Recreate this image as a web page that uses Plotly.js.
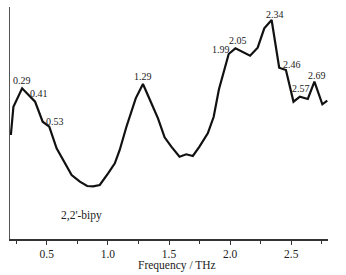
<!DOCTYPE html>
<html>
<head>
<meta charset="utf-8">
<script src="https://cdn.plot.ly/plotly-3.0.1.min.js"></script>
<style>
html,body{margin:0;padding:0;background:#fff;}
#chart{width:346px;height:275px;}
</style>
</head>
<body>
<div id="chart"></div>
<script>
// Frequency (THz) and absorbance (arbitrary units)
const freq = [0.207,0.228,0.299,0.405,0.467,0.521,0.581,0.635,0.704,0.771,0.831,0.880,0.934,1.002,1.057,1.097,1.152,1.228,1.287,1.356,1.410,1.464,1.519,1.586,1.641,1.695,1.749,1.817,1.865,1.908,1.988,2.043,2.102,2.163,2.225,2.279,2.339,2.401,2.456,2.518,2.570,2.635,2.689,2.754,2.794];
const absorb = [104,132.3,150.7,137.3,117.3,112.3,90.7,79,64,57.3,53,52.7,54,65.7,75.7,89,112.3,140.7,155,135.7,120.7,101.7,92.3,82.3,84.7,83,92.3,105.7,122,149.5,185,190.7,187.3,183.3,191.3,210.7,219,171.3,169,137.3,142.3,140,157.3,134.7,138.3];

// Peak labels
const peakLabels = ["0.29","0.41","0.53","1.29","1.99","2.05","2.34","2.46","2.57","2.69"];
const peakLabelX = [0.295,0.44,0.565,1.288,1.925,2.061,2.369,2.505,2.581,2.714];
const peakLabelY = [158.3,145.7,118,163,189.7,198.3,225,174.7,150.7,164];

const xTickVals = [0.5,1.0,1.5,2.0,2.5];
const sampleName = "2,2'-bipy";
const xTitle = "Frequency / THz";

const serif = "Liberation Serif";

const annotations = peakLabels.map((t,i)=>({
  text:t, x:peakLabelX[i], y:peakLabelY[i], xref:'x', yref:'y',
  showarrow:false, xanchor:'center', yanchor:'middle',
  font:{family:serif, size:10, color:'#222'}
}));
annotations.push({
  text:sampleName, x:0.781, y:23.3, xref:'x', yref:'y', showarrow:false,
  xanchor:'center', yanchor:'middle', font:{family:serif, size:11.5, color:'#222'}
});
annotations.push({
  text:xTitle, x:0.524, y:-0.115, xref:'paper', yref:'paper', showarrow:false,
  xanchor:'center', yanchor:'middle', font:{family:serif, size:11.5, color:'#222'}
});

const trace = {
  x:freq, y:absorb, type:'scatter', mode:'lines',
  line:{color:'#111', width:2.2}, hoverinfo:'skip'
};

const layout = {
  width:346, height:275,
  margin:{l:10, r:17.5, t:7, b:36},
  paper_bgcolor:'#fff', plot_bgcolor:'#fff',
  showlegend:false,
  font:{family:serif},
  xaxis:{
    range:[0.2,2.8], showgrid:false, zeroline:false,
    showline:true, linecolor:'#333', linewidth:1.5,
    tickmode:'array', tickvals:xTickVals, ticktext:xTickVals.map(v=>v.toFixed(1)),
    ticks:'outside', ticklen:4, tickwidth:1, tickcolor:'#333',
    minor:{dtick:0.25, tick0:0, ticks:'outside', ticklen:3, tickwidth:1, tickcolor:'#333', showgrid:false},
    tickfont:{family:serif, size:11.5, color:'#222'}
  },
  yaxis:{
    range:[0,232], showgrid:false, zeroline:false,
    showline:true, linecolor:'#555', linewidth:1.3,
    showticklabels:false, ticks:''
  },
  annotations:annotations
};

Plotly.newPlot('chart',[trace],layout,{staticPlot:true, displayModeBar:false});
</script>
</body>
</html>
